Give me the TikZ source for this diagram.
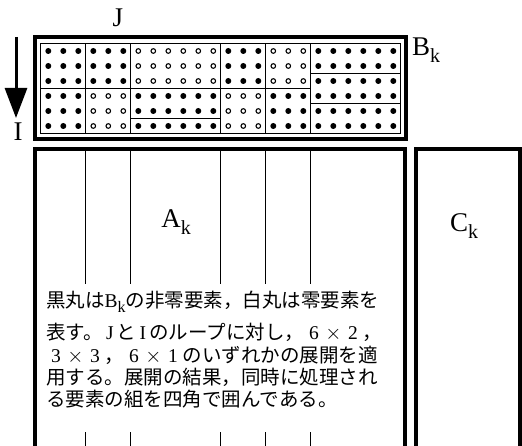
\documentclass[tikz,border=0pt]{standalone}
\usepackage{fontspec}
\setmainfont{Liberation Serif}
\newfontfamily\jp{Noto Sans CJK JP}
\usetikzlibrary{arrows.meta}
\newcommand\fw[1]{\makebox[1em]{\rmfamily #1}}
\newcommand\subk{\raisebox{-5pt}{\rmfamily\fontsize{16}{16}\selectfont k}}
\newcommand\lblk[1]{#1\raisebox{-7pt}{\fontsize{20}{20}\selectfont k}}
\begin{document}
\begin{tikzpicture}[x=1pt,y=-1pt,
  thickbox/.style={line width=3.2pt},
  thinline/.style={line width=0.9pt},
  fdot/.style={fill=black},
  odot/.style={draw=black,line width=1.1pt,fill=white},
  biglbl/.style={font=\rmfamily\fontsize{27}{27}\selectfont, inner sep=0pt},
  jline/.style={anchor=base west, inner sep=0pt, font=\jp\fontsize{19.5}{19.5}\selectfont}]
\useasboundingbox (0,0) rectangle (522,446);
% B block
\draw[thickbox] (35,37) rectangle (406,139);
\draw[thinline] (40.8,43.5) rectangle (400.8,133.5);
% dots
\foreach \r in {0,1,2}{
  \foreach \c in {0,1,2,3,4,5,12,13,14,18,19,20,21,22,23}
    \fill[fdot] ({48.3+15*\c},{51+15*\r}) circle (3pt);
  \foreach \c in {6,7,8,9,10,11,15,16,17}
    \draw[odot] ({48.3+15*\c},{51+15*\r}) circle (2.3pt);
}
\foreach \r in {3,4,5}{
  \foreach \c in {0,1,2,6,7,8,9,10,11,15,16,17,18,19,20,21,22,23}
    \fill[fdot] ({48.3+15*\c},{51+15*\r}) circle (3pt);
  \foreach \c in {3,4,5,12,13,14}
    \draw[odot] ({48.3+15*\c},{51+15*\r}) circle (2.3pt);
}
% block boundaries
\foreach \c in {3,6,12,15,18}
  \draw[thinline] ({40.8+15*\c},43.5) -- ({40.8+15*\c},133.5);
\draw[thinline] (40.8,88.5) -- (310.8,88.5);
\draw[thinline] (130.8,118.5) -- (220.8,118.5);
\draw[thinline] (310.8,73.5) -- (400.8,73.5);
\draw[thinline] (310.8,103.5) -- (400.8,103.5);
% A and C boxes
\draw[thickbox] (35,452) -- (35,149) -- (405,149) -- (405,452);
\draw[thickbox] (416,452) -- (416,149) -- (520,149) -- (520,452);
\foreach \c in {3,6,12,15,18}
  \draw[thinline] ({40.8+15*\c},149) -- ({40.8+15*\c},446);
\fill[white] (38,284) rectangle (402,432);
% arrow
\coordinate (arT) at (16,37);
\coordinate (arB) at (16,118);
\draw[line width=3pt, -{Triangle[width=22pt,length=30pt]}] (arT) -- (arB);
% labels
\node[biglbl] (J) at (118,18) {J};
\node[biglbl] (I) at (18,132) {I};
\node[biglbl, anchor=west] (Bk) at (412,50) {\lblk{B}};
\node[biglbl] (Ak) at (176,222) {\lblk{A}};
\node[biglbl] (Ck) at (464,226) {\lblk{C}};
% text
\node[jline] (t1) at (46,308) {黒丸は{\rmfamily B}\subk の非零要素，白丸は零要素を};
\node[jline] (t2) at (46,339) {表す。\,{\rmfamily J}\,と\,{\rmfamily I}\,のループに対し，\fw{6}\fw{$\times$}\fw{2}，};
\node[jline] (t3) at (46,362) {\fw{3}\fw{$\times$}\fw{3}，\fw{6}\fw{$\times$}\fw{1}のいずれかの展開を適};
\node[jline] (t4) at (46,384) {用する。展開の結果，同時に処理され};
\node[jline] (t5) at (46,406) {る要素の組を四角で囲んである。};
\end{tikzpicture}
\end{document}
